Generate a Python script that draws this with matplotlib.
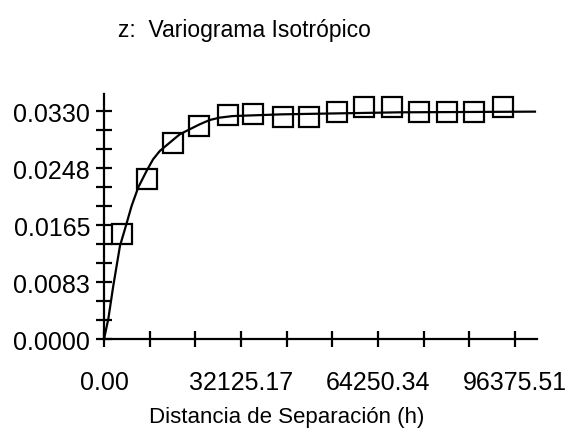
import numpy as np
import matplotlib
matplotlib.use("Agg")
import matplotlib.pyplot as plt
from matplotlib.ticker import FixedLocator, FixedFormatter

plt.rcParams['font.family'] = ['Liberation Sans', 'DejaVu Sans']

# experimental variogram (squares)
lag_h = [4130, 9970, 16180, 22180, 29020, 35030, 41870, 48030, 54710,
         60940, 67550, 73860, 80390, 86630, 93470]
gamma_exp = [0.01519, 0.02325, 0.02846, 0.03086, 0.03241, 0.03256, 0.03222,
             0.03220, 0.03285, 0.03360, 0.03360, 0.03285, 0.03285, 0.03285,
             0.03360]

# fitted model line
model_h = [0, 1000, 2170, 3740, 4900, 6470, 8010, 9970, 11510, 13080, 15410,
           17750, 20080, 22420, 24750, 27090, 30190, 41800, 69100, 101040]
model_g = [0.0, 0.00289, 0.00771, 0.0135, 0.01592, 0.01929, 0.02195, 0.02435,
           0.02605, 0.02725, 0.02846, 0.02966, 0.03039, 0.03111, 0.03173,
           0.03208, 0.03231, 0.03256, 0.03285, 0.03295]

y_ticks = [0.0, 0.00825, 0.0165, 0.02475, 0.033]
y_labels = ["0.0000", "0.0083", "0.0165", "0.0248", "0.0330"]
x_ticks = [0.0, 32125.17, 64250.34, 96375.51]
x_labels = ["0.00", "32125.17", "64250.34", "96375.51"]

fig = plt.figure(figsize=(5.7, 4.39), dpi=100)
ax = fig.add_axes([0.1825, 0.2255, 0.7595, 0.558])

ax.plot(model_h, model_g, 'k', lw=1.6, zorder=2)
ax.plot(lag_h, gamma_exp, 's', ms=14, mfc='none', mec='k', mew=1.6, zorder=3)

ax.set_xlim(0, 101500)
ax.set_ylim(0, 0.0355)

for s in ['top', 'right']:
    ax.spines[s].set_visible(False)
for s in ['left', 'bottom']:
    ax.spines[s].set_linewidth(1.6)

ax.yaxis.set_major_locator(FixedLocator(y_ticks))
ax.yaxis.set_major_formatter(FixedFormatter(y_labels))
ax.yaxis.set_minor_locator(FixedLocator([0.00275, 0.0055, 0.011, 0.01375,
                                         0.0193, 0.022, 0.02475 + 0.00275,
                                         0.0303]))
ax.xaxis.set_major_locator(FixedLocator(x_ticks))
ax.xaxis.set_major_formatter(FixedFormatter(x_labels))
ax.xaxis.set_minor_locator(FixedLocator([10708.39, 21416.78, 42833.56, 53541.95,
                                         74958.73, 85667.12]))

ax.tick_params(which='both', direction='inout', length=12, width=1.6,
               labelsize=18, colors='k')
ax.tick_params(axis='y', pad=4)
ax.tick_params(axis='x', pad=16)

fig.text(0.428, 0.93, "z:  Variograma Isotrópico", ha='center', va='center',
         fontsize=16.5)
fig.text(0.503, 0.048, "Distancia de Separación (h)", ha='center',
         va='center', fontsize=16)

fig.savefig("out.png", dpi=100)
